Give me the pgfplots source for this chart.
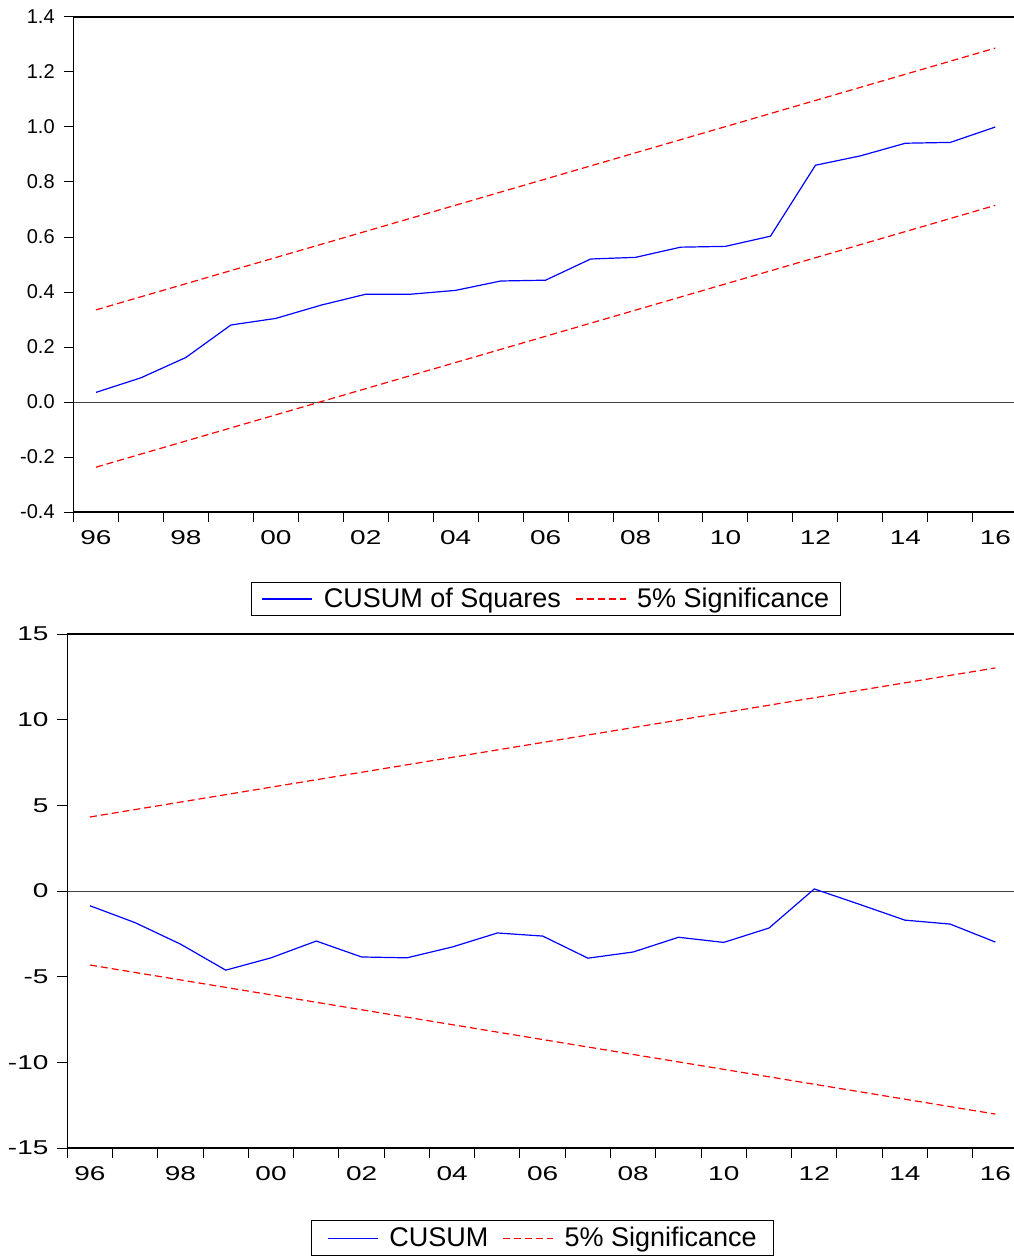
\documentclass[border=0pt]{standalone}
\usepackage{fontspec}
\setmainfont{Liberation Sans}
\newfontfamily\tickfont[FakeStretch=1.4]{Liberation Sans}
\usepackage{pgfplots}
\pgfplotsset{compat=1.18}
\definecolor{cblue}{RGB}{0,0,255}
\definecolor{cred}{RGB}{255,0,0}
\pgfplotsset{
  evstyle/.style={
    scale only axis,
    xmin=1995.5,
    axis line style={line width=0.7pt},
    tick align=outside,
    xtick pos=left, ytick pos=left,
    xtick={1996,1998,...,2016},
    xticklabels={96,98,00,02,04,06,08,10,12,14,16},
    major x tick style={draw=none},
    minor xtick={1995.5,1996.5,...,2016.5},
    major tick length=5pt, minor tick length=5pt,
    every tick/.style={black, line width=0.5pt},
    minor x tick style={black, line width=0.5pt},
    ticklabel style={font=\fontsize{10}{12}\tickfont},
    xticklabel style={yshift=-0.8pt},
    yticklabel style={xshift=-0.9pt},
    legend columns=2,
    legend image code/.code={\draw[##1, shorten <=2.5pt, shorten >=2.5pt] (0pt,0pt) -- (30pt,0pt);},
    legend style={anchor=center, draw=black, line width=0.5pt,
      font=\fontsize{13.5}{16}\selectfont,
      nodes={inner xsep=3pt, inner ysep=1.5pt},
      inner xsep=2.5pt, inner ysep=1pt,
      /tikz/every even column/.append style={column sep=1.5pt}},
  },
  cusum/.style={cblue, line width=0.6pt},
  sig/.style={cred, line width=0.6pt, dash pattern=on 3.5pt off 2pt},
  zero/.style={black!75, line width=0.5pt},
}
\begin{document}
\begin{tikzpicture}
% ---------- Top panel: CUSUM of Squares ----------
\begin{axis}[evstyle,
  at={(36.75pt,-8.5pt)}, anchor=north west,
  width=472.6pt, height=247.5pt,
  xmax=2016.52, ymin=-0.4, ymax=1.4,
  ytick={-0.4,-0.2,0,0.2,0.4,0.6,0.8,1.0,1.2,1.4},
  yticklabels={-0.4,-0.2,0.0,0.2,0.4,0.6,0.8,1.0,1.2,1.4},
  yticklabel style={font=\fontsize{10}{12}\selectfont},
  legend style={at={(0.4999,-0.1758)}},
]
\addplot[zero, forget plot] coordinates {(1995.5,0) (2016.52,0)};
\addplot[cusum] coordinates {
(1996,0.035) (1997,0.088) (1998,0.162) (1999,0.280) (2000,0.304)
(2001,0.352) (2002,0.392) (2003,0.392) (2004,0.406) (2005,0.440)
(2006,0.443) (2007,0.520) (2008,0.526) (2009,0.563) (2010,0.566)
(2011,0.603) (2012,0.861) (2013,0.895) (2014,0.941) (2015,0.944)
(2016,1.000)};
\addlegendentry{CUSUM of Squares}
\addplot[sig] coordinates {(1996,0.335) (2016,1.287)};
\addlegendentry{5\% Significance}
\addplot[sig, forget plot] coordinates {(1996,-0.237) (2016,0.715)};
\end{axis}
% ---------- Bottom panel: CUSUM ----------
\begin{axis}[evstyle,
  at={(33.65pt,-317pt)}, anchor=north west,
  width=475.7pt, height=257pt,
  xmax=2016.515, ymin=-15, ymax=15,
  ytick={-15,-10,-5,0,5,10,15},
  yticklabels={-15,-10,-5,0,5,10,15},
  legend style={at={(0.4995,-0.1755)}, inner xsep=5.5pt, inner ysep=1.5pt},
]
\addplot[zero, forget plot] coordinates {(1995.5,0) (2016.52,0)};
\addplot[cusum] coordinates {
(1996,-0.86) (1997,-1.85) (1998,-3.10) (1999,-4.62) (2000,-3.90)
(2001,-2.92) (2002,-3.85) (2003,-3.90) (2004,-3.27) (2005,-2.45)
(2006,-2.63) (2007,-3.92) (2008,-3.56) (2009,-2.70) (2010,-3.00)
(2011,-2.16) (2012,0.12) (2013,-0.78) (2014,-1.70) (2015,-1.93)
(2016,-2.98)};
\addlegendentry{CUSUM}
\addplot[sig] coordinates {(1996,4.32) (2016,13.02)};
\addlegendentry{5\% Significance}
\addplot[sig, forget plot] coordinates {(1996,-4.32) (2016,-13.02)};
\end{axis}
\pgfresetboundingbox
\path[use as bounding box] (0,0) rectangle (506.5pt,-628.5pt);
\end{tikzpicture}
\end{document}
